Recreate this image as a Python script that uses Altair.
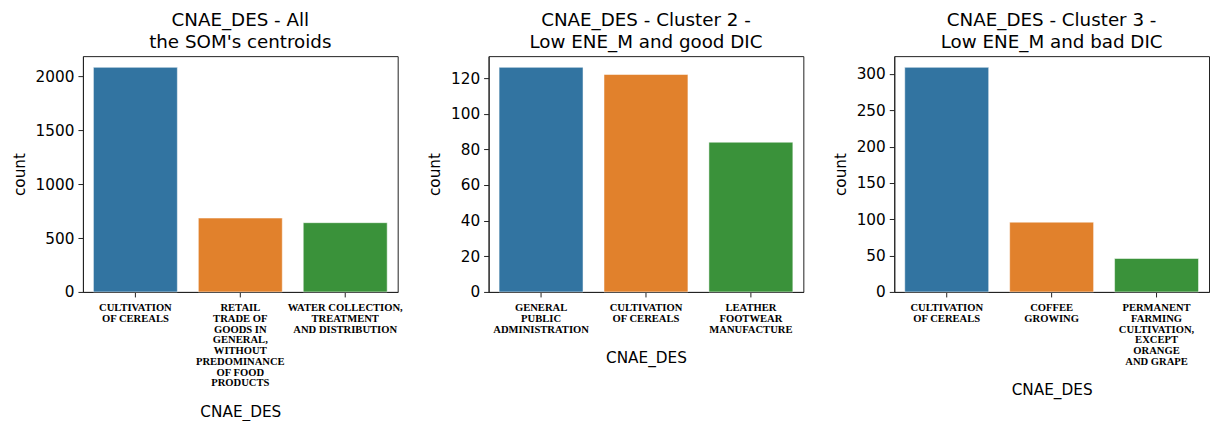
import altair as alt
import pandas as pd

# ---- data ----
titles = [
    ["CNAE_DES - All", "the SOM's centroids"],
    ["CNAE_DES - Cluster 2 -", "Low ENE_M and good DIC"],
    ["CNAE_DES - Cluster 3 -", "Low ENE_M and bad DIC"],
]
labels_1 = ["CULTIVATION|OF CEREALS",
            "RETAIL|TRADE OF|GOODS IN|GENERAL,|WITHOUT|PREDOMINANCE|OF FOOD|PRODUCTS",
            "WATER COLLECTION,|TREATMENT|AND DISTRIBUTION"]
counts_1 = [2085, 686, 643]
labels_2 = ["GENERAL|PUBLIC|ADMINISTRATION",
            "CULTIVATION|OF CEREALS",
            "LEATHER|FOOTWEAR|MANUFACTURE"]
counts_2 = [126, 122, 84]
labels_3 = ["CULTIVATION|OF CEREALS",
            "COFFEE|GROWING",
            "PERMANENT|FARMING|CULTIVATION,|EXCEPT|ORANGE|AND GRAPE"]
counts_3 = [309, 96, 46]
ticks_1 = [0, 500, 1000, 1500, 2000]
ticks_2 = [0, 20, 40, 60, 80, 100, 120]
ticks_3 = [0, 50, 100, 150, 200, 250, 300]
palette = ["#3274a1", "#e1812c", "#3a923a"]

W, H = 315, 236


def panel(title, labels, counts, ticks):
    df = pd.DataFrame({"label": labels, "count": counts,
                       "idx": [str(i) for i in range(len(labels))]})
    top = max(counts) * 1.05
    return alt.Chart(df).mark_bar(stroke="white", strokeWidth=0.5).encode(
        x=alt.X("label:N", sort=labels, title="CNAE_DES",
                scale=alt.Scale(paddingInner=0.2, paddingOuter=0.1),
                axis=alt.Axis(labelAngle=0, labelExpr="split(datum.label, '|')",
                              labelFont="Liberation Serif", labelFontWeight="bold",
                              labelFontSize=10.6, labelLineHeight=10.7,
                              labelColor="black", labelOverlap=False,
                              labelBaseline="top", labelPadding=6,
                              labelLimit=0, titlePadding=16)),
        y=alt.Y("count:Q", title="count",
                scale=alt.Scale(domain=[0, top], nice=False, zero=True),
                axis=alt.Axis(values=ticks, format="d", titlePadding=8)),
        color=alt.Color("idx:N", scale=alt.Scale(domain=["0", "1", "2"], range=palette),
                        legend=None),
    ).properties(
        width=W, height=H,
        title=alt.TitleParams(text=title, fontSize=18.3, font="DejaVu Sans",
                              fontWeight="normal", color="black", lineHeight=21.7,
                              offset=4, anchor="middle"),
    )


charts = [
    panel(titles[0], labels_1, counts_1, ticks_1),
    panel(titles[1], labels_2, counts_2, ticks_2),
    panel(titles[2], labels_3, counts_3, ticks_3),
]

chart = alt.hconcat(*charts, spacing=91, bounds="flush").properties(
    padding={"left": 3, "right": 1, "top": 2, "bottom": 2}
).configure_view(
    stroke="#222222", strokeWidth=1
).configure_axis(
    grid=False, domainColor="#222222", tickColor="#222222", tickSize=5,
    labelFont="DejaVu Sans", labelFontSize=15.3, labelColor="black",
    titleFont="DejaVu Sans", titleFontSize=15.3, titleFontWeight="normal",
    titleColor="black", labelPadding=4
)

chart.save("out.html", embed_options={"renderer": "svg", "actions": False})
